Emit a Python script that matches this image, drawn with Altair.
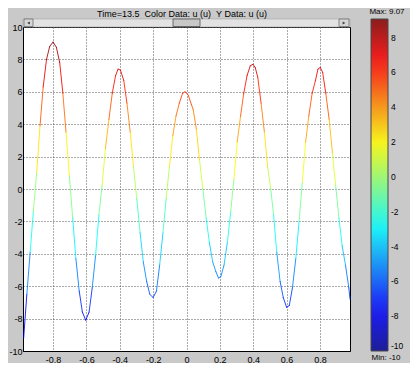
import altair as alt
import pandas as pd

TITLE = "Time=13.5\u00a0\u00a0Color Data: u (u)\u00a0\u00a0Y Data: u (u)"
MAX_LABEL = "Max: 9.07"
MIN_LABEL = "Min: -10"

x_vals = [-0.976, -0.957, -0.937, -0.918, -0.898, -0.878, -0.859, -0.839, -0.820, -0.800,
          -0.780, -0.760, -0.741, -0.722, -0.702, -0.682, -0.663, -0.643, -0.624, -0.604,
          -0.584, -0.565, -0.545, -0.525, -0.506, -0.486, -0.465, -0.445, -0.425, -0.410,
          -0.396, -0.376, -0.357, -0.337, -0.318, -0.298, -0.278, -0.259, -0.239, -0.220,
          -0.200, -0.180, -0.161, -0.141, -0.122, -0.102, -0.082, -0.063, -0.043, -0.024,
          -0.008, 0.010, 0.030, 0.040, 0.059, 0.078, 0.098, 0.118, 0.137, 0.157,
          0.176, 0.192, 0.206, 0.225, 0.245, 0.265, 0.284, 0.304, 0.324, 0.343,
          0.363, 0.382, 0.398, 0.412, 0.427, 0.447, 0.467, 0.486, 0.505, 0.522,
          0.541, 0.561, 0.580, 0.600, 0.616, 0.635, 0.655, 0.675, 0.694, 0.714,
          0.733, 0.753, 0.773, 0.788, 0.802, 0.816, 0.835, 0.855, 0.875, 0.894,
          0.914, 0.933, 0.953, 0.973, 0.980]
u_vals = [-9.2, -6.5, -3.9, -1.4, 1.0, 3.9, 6.3, 8.0, 8.8, 9.07,
          8.75, 7.8, 5.9, 3.5, 0.8, -1.8, -4.3, -6.3, -7.6, -8.1,
          -7.6, -6.1, -4.1, -1.6, 0.2, 2.5, 4.3, 5.9, 7.0, 7.4,
          7.34, 6.7, 5.3, 3.5, 1.4, -0.6, -2.7, -4.5, -5.7, -6.5,
          -6.7, -6.3, -4.7, -2.7, -0.6, 1.4, 3.3, 4.5, 5.3, 5.9,
          6.0, 5.8, 5.2, 4.9, 3.7, 1.8, 0.0, -1.8, -3.3, -4.5,
          -5.1, -5.5, -5.4, -4.7, -3.3, -1.4, 0.6, 2.9, 4.5, 5.9,
          7.0, 7.6, 7.7, 7.5, 6.9, 5.3, 3.5, 1.4, 0.0, -1.6,
          -3.9, -5.7, -6.7, -7.3, -7.2, -6.1, -4.3, -2.0, 0.4, 2.9,
          4.5, 5.9, 6.7, 7.4, 7.5, 7.2, 5.9, 4.3, 2.2, 0.2,
          -1.8, -3.5, -4.7, -6.1, -6.8]

x_ticks = [-0.8, -0.6, -0.4, -0.2, 0, 0.2, 0.4, 0.6, 0.8]
y_ticks = [-10, -8, -6, -4, -2, 0, 2, 4, 6, 8, 10]
cbar_ticks = [-10, -8, -6, -4, -2, 0, 2, 4, 6, 8]
U_MIN, U_MAX = -10.0, 9.07
jet_fracs = [0.0, 0.125, 0.375, 0.625, 0.875, 1.0]
jet_colors = ["#00008f", "#0000ff", "#00ffff", "#ffff00", "#ff0000", "#800000"]
jet_domain = [U_MIN + f * (U_MAX - U_MIN) for f in jet_fracs]

FONT = "Liberation Sans"
BG = "#c9c9c9"
PLAIN = "'' + datum.value"

seg = pd.DataFrame({
    "x": x_vals[:-1], "x2": x_vals[1:],
    "u": u_vals[:-1], "u2": u_vals[1:],
})
seg["c"] = (seg["u"] + seg["u2"]) / 2

xs = alt.Scale(domain=[-0.98, 0.98], nice=False, zero=False)
ys = alt.Scale(domain=[-10, 10], nice=False, zero=False)

line = alt.Chart(seg).mark_rule(strokeWidth=1, strokeCap="round", opacity=0.85).encode(
    x=alt.X("x:Q", scale=xs, axis=alt.Axis(values=x_ticks, title="", labelExpr=PLAIN, labelPadding=4)),
    x2="x2:Q",
    y=alt.Y("u:Q", scale=ys, axis=alt.Axis(values=y_ticks, title="", labelExpr=PLAIN, labelPadding=1)),
    y2="u2:Q",
    color=alt.Color(
        "c:Q",
        scale=alt.Scale(domain=jet_domain, range=jet_colors, interpolate="rgb"),
        legend=alt.Legend(
            title=MAX_LABEL, orient="none", legendX=346, legendY=-19,
            direction="vertical", gradientLength=332, gradientThickness=17,
            gradientStrokeColor="#333333", gradientStrokeWidth=1,
            values=cbar_ticks, labelExpr=PLAIN, labelFontSize=8.5, labelFont=FONT,
            labelColor="black", labelOffset=3, labelBaseline="middle",
            labelOverlap=False,
            titleFontSize=8, titleFont=FONT, titleFontWeight="normal",
            titleColor="black", titlePadding=3, titleAnchor="middle", padding=0,
        ),
    ),
)

dummy = pd.DataFrame({"t": [MIN_LABEL], "title": [TITLE]})
track = alt.Chart(dummy).mark_rect(fill="#e2e2e2", stroke="#9a9a9a", strokeWidth=0.5).encode(
    x=alt.value(0), x2=alt.value(327), y=alt.value(-8), y2=alt.value(0))
arrow_l = alt.Chart(dummy).mark_rect(
    fill="#d6d6d6", stroke="#606060", strokeWidth=0.7).encode(
    x=alt.value(1), x2=alt.value(10), y=alt.value(-8), y2=alt.value(-0.5))
arrow_r = alt.Chart(dummy).mark_rect(
    fill="#d6d6d6", stroke="#606060", strokeWidth=0.7).encode(
    x=alt.value(316), x2=alt.value(326), y=alt.value(-8), y2=alt.value(-0.5))
tri_l = alt.Chart(dummy).mark_point(shape="triangle-left", filled=True, color="black", size=10).encode(
    x=alt.value(5.5), y=alt.value(-4))
tri_r = alt.Chart(dummy).mark_point(shape="triangle-right", filled=True, color="black", size=10).encode(
    x=alt.value(321), y=alt.value(-4))
thumb = alt.Chart(dummy).mark_rect(fill="#c8c8c8", stroke="#505050", strokeWidth=0.8).encode(
    x=alt.value(150), x2=alt.value(177), y=alt.value(-8), y2=alt.value(-0.5))
min_text = alt.Chart(dummy).mark_text(fontSize=8, font=FONT, color="black", align="center").encode(
    text="t:N", x=alt.value(363), y=alt.value(331))
title_text = alt.Chart(dummy).mark_text(fontSize=9, font=FONT, color="black", align="center",
                                         baseline="alphabetic").encode(
    text="title:N", x=alt.value(159), y=alt.value(-10))

chart = alt.layer(track, arrow_l, arrow_r, tri_l, tri_r, thumb, line, min_text, title_text).properties(
    width=327, height=324,
    autosize=alt.AutoSizeParams(type="none"),
    padding={"left": 15, "top": 19, "right": 60, "bottom": 12},
).configure(background=BG).configure_view(
    fill="white", stroke="black", strokeWidth=1
).configure_axis(
    domainColor="black", domainWidth=1, labelFont=FONT, labelFontSize=9, labelColor="black",
    grid=True, gridColor="#555555", gridDash=[1, 2], gridWidth=1, ticks=False,
    labelFlush=False, labelOverlap=False,
)

chart.save("out.html", embed_options={"renderer": "svg", "actions": False})
